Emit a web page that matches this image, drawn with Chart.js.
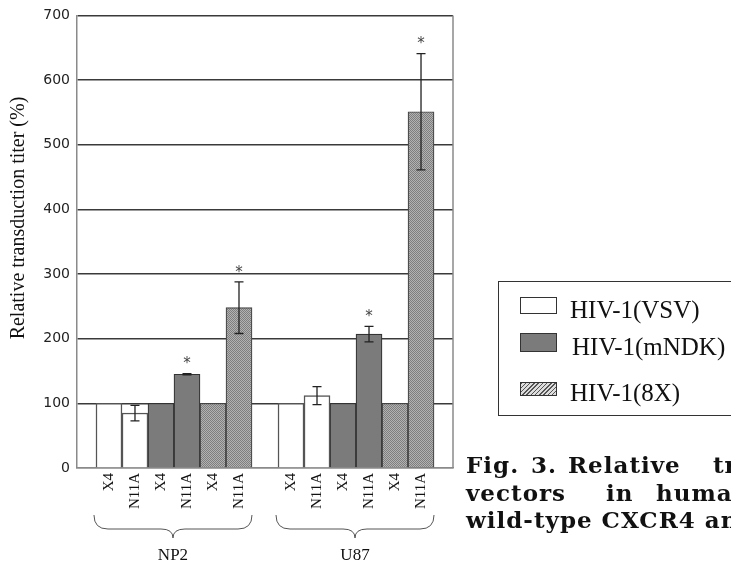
<!DOCTYPE html>
<html>
<head>
<meta charset="utf-8">
<script src="https://cdn.jsdelivr.net/npm/chart.js@4.4.1/dist/chart.umd.min.js"></script>
<style>
  html, body { margin: 0; padding: 0; background: #fff; }
  #wrap { position: relative; width: 731px; height: 564px; overflow: hidden; }
  #chart { position: absolute; left: 0; top: 0; }
  .legend { position: absolute; left: 498px; top: 281px; width: 260px; height: 135px;
    border: 1.5px solid #333; box-sizing: border-box; }
  .sw { position: absolute; box-sizing: border-box; border: 1.5px solid #333; }
  .lt { position: absolute; font-family: "Liberation Serif", "Times New Roman", serif;
    font-size: 25px; color: #111; white-space: nowrap; line-height: 1; }
  .cap { position: absolute; font-family: "DejaVu Serif", serif; font-weight: bold;
    font-size: 23px; letter-spacing: 1px; color: #111; white-space: pre; line-height: 1; }
</style>
</head>
<body>
<div id="wrap">
  <canvas id="chart" width="731" height="564"></canvas>
  <div class="legend"></div>
  <div class="sw" style="left:520px;top:297px;width:37px;height:17px;background:#fff"></div>
  <div class="lt" style="left:570px;top:297px">HIV-1(VSV)</div>
  <div class="sw" style="left:520px;top:333px;width:37px;height:19px;background:#7b7b7b"></div>
  <div class="lt" style="left:572px;top:334px">HIV-1(mNDK)</div>
  <div class="sw" style="left:520px;top:382px;width:37px;height:14px;
    background:repeating-linear-gradient(135deg,#555 0 1px,#ddd 1px 3px)"></div>
  <div class="lt" style="left:570px;top:380px">HIV-1(8X)</div>
  <!-- caption, justified like the source page -->
  <span class="cap" style="left:466px;top:453px">Fig.</span>
  <span class="cap" style="left:531px;top:453px">3.</span>
  <span class="cap" style="left:568px;top:453px">Relative</span>
  <span class="cap" style="left:713px;top:453px">transduction</span>
  <span class="cap" style="left:466px;top:481px">vectors</span>
  <span class="cap" style="left:606px;top:481px">in</span>
  <span class="cap" style="left:656px;top:481px">human</span>
  <span class="cap" style="left:466px;top:508px">wild-type CXCR4 and</span>
</div>
<script>
// cell lines and CXCR4 variants on the x axis
const groups = ["NP2", "U87"];
const sites = ["X4", "N11A"];
const seriesNames = ["HIV-1(VSV)", "HIV-1(mNDK)", "HIV-1(8X)"];

// values in order NP2-X4, NP2-N11A, U87-X4, U87-N11A
const vsvValues = [100, 85, 100, 112];
const vsvErrors = [0, 12, 0, 14];
const mndkValues = [100, 145, 100, 207];
const mndkErrors = [0, 1, 0, 12];
const x8Values = [100, 248, 100, 551];
const x8Errors = [0, 40, 0, 90];
// significance marks (*)
const mndkStars = [false, true, false, true];
const x8Stars = [false, true, false, true];

const yTicks = [0, 100, 200, 300, 400, 500, 600, 700];

// slot on the x axis: 6 bars per group, one empty slot between groups
function slotOf(series, i) {
  const g = Math.floor(i / 2), k = i % 2;
  return 1 + g * 7 + series * 2 + k;
}

function toPoints(series, values) {
  return values.map((v, i) => ({ x: slotOf(series, i), y: v }));
}

// dithered gray fill for the 8X bars
function ditherPattern() {
  const c = document.createElement("canvas");
  c.width = 2; c.height = 2;
  const g = c.getContext("2d");
  g.fillStyle = "#b2b2b2"; g.fillRect(0, 0, 2, 2);
  g.fillStyle = "#7e7e7e"; g.fillRect(0, 0, 1, 1); g.fillRect(1, 1, 1, 1);
  return g.createPattern(c, "repeat");
}

const tickSlots = [];
const tickNames = {};
[0, 1, 2].forEach((s) => {
  for (let i = 0; i < 4; i++) {
    tickSlots.push(slotOf(s, i));
    tickNames[slotOf(s, i)] = sites[i % 2];
  }
});
tickSlots.sort((a, b) => a - b);

const errorSets = [vsvErrors, mndkErrors, x8Errors];
const starSets = [[false, false, false, false], mndkStars, x8Stars];

const extras = {
  id: "extras",
  afterDatasetsDraw(chart) {
    const { ctx, chartArea, scales } = chart;
    const xs = scales.x, ys = scales.y;
    ctx.save();
    // right border of plot
    ctx.strokeStyle = "#8a8a8a";
    ctx.lineWidth = 1.5;
    ctx.beginPath();
    ctx.moveTo(chartArea.right, chartArea.top);
    ctx.lineTo(chartArea.right, chartArea.bottom);
    ctx.stroke();

    // error bars and stars
    ctx.strokeStyle = "#222";
    ctx.lineWidth = 1.3;
    chart.data.datasets.forEach((ds, s) => {
      ds.data.forEach((p, i) => {
        const err = errorSets[s][i];
        const x = xs.getPixelForValue(p.x);
        let top = ys.getPixelForValue(p.y);
        if (err > 0) {
          top = ys.getPixelForValue(p.y + err);
          const bot = ys.getPixelForValue(p.y - err);
          ctx.beginPath();
          ctx.moveTo(x, top); ctx.lineTo(x, bot);
          ctx.moveTo(x - 4.5, top); ctx.lineTo(x + 4.5, top);
          ctx.moveTo(x - 4.5, bot); ctx.lineTo(x + 4.5, bot);
          ctx.stroke();
        }
        if (starSets[s][i]) {
          ctx.fillStyle = "#444";
          ctx.font = "15px 'DejaVu Sans', sans-serif";
          ctx.textAlign = "center";
          ctx.textBaseline = "middle";
          ctx.fillText("*", x, top - 9);
        }
      });
    });

    // braces and group names under the ticks
    ctx.strokeStyle = "#555";
    ctx.lineWidth = 1;
    groups.forEach((name, g) => {
      const x0 = xs.getPixelForValue(1 + g * 7) - 15;
      const x1 = xs.getPixelForValue(6 + g * 7) + 13;
      const xm = (x0 + x1) / 2;
      const yTop = 515, yMid = 529, yTip = 538;
      ctx.beginPath();
      ctx.moveTo(x0, yTop);
      ctx.quadraticCurveTo(x0, yMid, x0 + 14, yMid);
      ctx.lineTo(xm - 12, yMid);
      ctx.quadraticCurveTo(xm, yMid, xm, yTip);
      ctx.quadraticCurveTo(xm, yMid, xm + 12, yMid);
      ctx.lineTo(x1 - 14, yMid);
      ctx.quadraticCurveTo(x1, yMid, x1, yTop);
      ctx.stroke();
      ctx.fillStyle = "#111";
      ctx.font = "17px 'Liberation Serif', serif";
      ctx.textAlign = "center";
      ctx.textBaseline = "middle";
      ctx.fillText(name, xm, 556);
    });

    // y axis title
    ctx.translate(19, 218);
    ctx.rotate(-Math.PI / 2);
    ctx.fillStyle = "#111";
    ctx.font = "20px 'Liberation Serif', serif";
    ctx.textAlign = "center";
    ctx.textBaseline = "middle";
    ctx.fillText("Relative transduction titer (%)", 0, 0);
    ctx.restore();
  },
};

new Chart(document.getElementById("chart"), {
  type: "bar",
  data: {
    datasets: [
      {
        label: seriesNames[0],
        data: toPoints(0, vsvValues),
        backgroundColor: "#ffffff",
        borderColor: "#555",
        borderWidth: 1.5,
      },
      {
        label: seriesNames[1],
        data: toPoints(1, mndkValues),
        backgroundColor: "#7b7b7b",
        borderColor: "#333",
        borderWidth: 1.2,
      },
      {
        label: seriesNames[2],
        data: toPoints(2, x8Values),
        backgroundColor: ditherPattern(),
        borderColor: "#444",
        borderWidth: 1.2,
      },
    ],
  },
  options: {
    responsive: false,
    animation: false,
    devicePixelRatio: 1,
    layout: { padding: { top: 15, right: 278, left: 0, bottom: 0 } },
    datasets: {
      bar: { grouped: false, categoryPercentage: 1, barPercentage: 1 },
    },
    plugins: {
      legend: { display: false },
      tooltip: { enabled: false },
    },
    scales: {
      x: {
        type: "linear",
        min: -0.23,
        max: 14.23,
        offset: false,
        afterFit: (scale) => { scale.height = 96; },
        afterBuildTicks: (scale) => {
          scale.ticks = tickSlots.map((v) => ({ value: v }));
        },
        grid: { display: false, drawTicks: false },
        border: { display: true, color: "#8a8a8a", width: 1.5 },
        ticks: {
          autoSkip: false,
          minRotation: 90,
          maxRotation: 90,
          padding: 5,
          color: "#111",
          font: { family: "'Liberation Serif', serif", size: 15 },
          callback: (v) => tickNames[v] || "",
        },
      },
      y: {
        min: 0,
        max: 700,
        afterFit: (scale) => { scale.width = 77; },
        afterBuildTicks: (scale) => {
          scale.ticks = yTicks.map((v) => ({ value: v }));
        },
        border: { display: true, color: "#8a8a8a", width: 1.5 },
        grid: {
          drawTicks: false,
          lineWidth: 1.5,
          color: (c) => (c.tick && c.tick.value === 0 ? "#8a8a8a" : "#3a3a3a"),
        },
        ticks: {
          padding: 7,
          color: "#222",
          font: { family: "'DejaVu Sans', sans-serif", size: 14 },
        },
      },
    },
  },
  plugins: [extras],
});
</script>
</body>
</html>
